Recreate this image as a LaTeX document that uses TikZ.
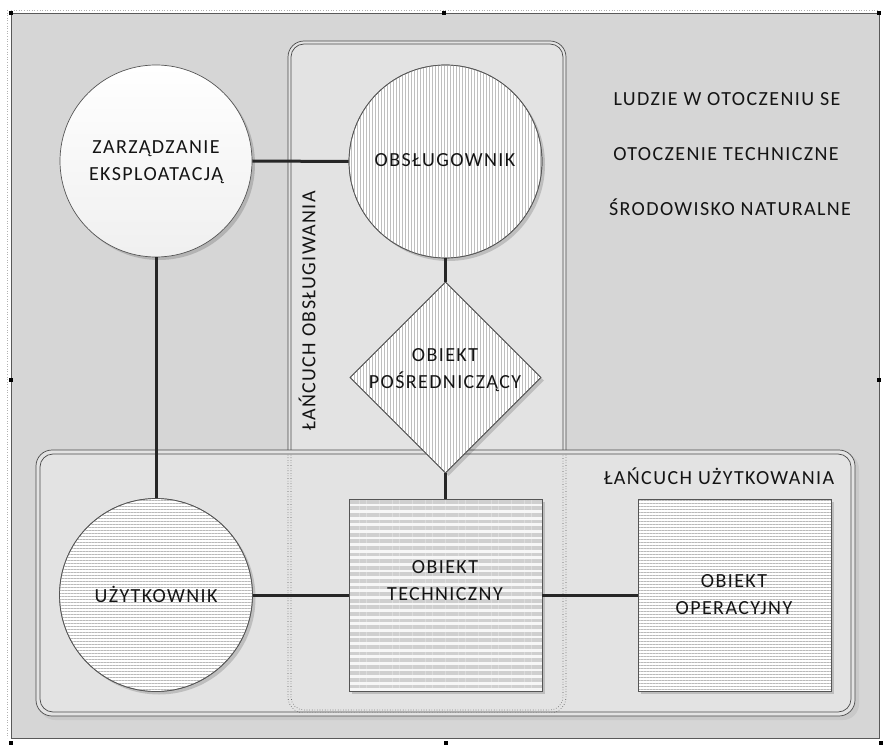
\documentclass[tikz,border=0pt]{standalone}
\usepackage{fontspec}
\setmainfont{Carlito}[LetterSpace=7]
\usetikzlibrary{shapes.geometric,shadows,patterns.meta}

\definecolor{bggray}{HTML}{D6D6D6}
\definecolor{boxgray}{HTML}{E3E3E3}
\definecolor{edge}{HTML}{555555}
\definecolor{framecol}{HTML}{4A4A4A}
\definecolor{ink}{HTML}{141414}
\definecolor{link}{HTML}{262626}

\begin{document}
\begin{tikzpicture}[x=1pt,y=-1pt,
  lbl/.style={font=\fontsize{20}{27}\selectfont, text=ink, align=center, inner sep=0pt},
  shp/.style={draw=edge, line width=0.7pt, inner sep=0pt,
    drop shadow={shadow xshift=3pt, shadow yshift=-3pt, fill=black, opacity=0.16}},
  outline/.style={postaction={draw=edge, line width=0.7pt}},
  vhatch/.style={fill=white, postaction={pattern={Lines[angle=90,distance=3pt,line width=0.45pt]}, pattern color=gray!50}, outline},
  hhatch/.style={fill=white, postaction={pattern={Lines[angle=0,distance=3pt,line width=0.5pt]}, pattern color=gray!55}, outline},
  bandhatch/.style={fill=gray!6, postaction={pattern={Lines[angle=0,distance=6.6pt,line width=3.8pt]}, pattern color=gray!38}, outline},
  conn/.style={draw=link, line width=3pt},
  chainframe/.style={draw=framecol, line width=0.7pt},
  handle/.style={fill=black}
]
\useasboundingbox (0,0) rectangle (883,746);

% sheet background
\fill[white] (0,0) rectangle (883,746);
\fill[bggray] (11,13) rectangle (879,738);
\draw[gray!70!black, line width=0.7pt] (11,13) rectangle (879,738);
\draw[gray!60, dotted, line width=0.6pt] (7,10) -- (7,738);
\draw[gray!60, dotted, line width=0.6pt] (11,10) -- (879,10);

% frame handles
\foreach \hx/\hy in {11/13, 444/13, 879/13, 11/380, 879/380, 11/743, 446/743, 881/743}
  \fill[handle] (\hx-2,\hy-2) rectangle (\hx+2,\hy+2);

% maintenance chain (vertical)
\fill[boxgray, rounded corners=16pt] (288,41) rectangle (566,713);
\draw[chainframe, rounded corners=16pt] (288,41) rectangle (566,713);
\draw[chainframe, rounded corners=13pt] (291,44) rectangle (563,710);

% use chain (horizontal)
\fill[black, opacity=0.06, rounded corners=16pt] (39,453) rectangle (859,720);
\fill[boxgray, rounded corners=16pt] (36,450) rectangle (855,716);
\draw[chainframe, rounded corners=16pt] (36,450) rectangle (855,716);
\draw[chainframe, rounded corners=13pt] (40,454) rectangle (851,712);

% maintenance chain outline seen through the use chain
\begin{scope}
  \clip (40,454) rectangle (851,712);
  \draw[gray!70!black, dotted, line width=0.6pt, rounded corners=16pt] (288,41) rectangle (566,713);
  \draw[gray!70!black, dotted, line width=0.6pt, rounded corners=13pt] (291,44) rectangle (563,710);
\end{scope}

% elements
\node[shp, circle, minimum size=192pt, top color=white, bottom color=gray!12] (zarz) at (156,161) {};
\node[shp, circle, minimum size=193pt, vhatch] (obsl) at (445.5,161.5) {};
\node[shp, diamond, aspect=1, minimum width=191pt, minimum height=191pt, vhatch] (posr) at (445.5,377.5) {};
\node[shp, circle, minimum size=193pt, hhatch] (uzyt) at (156,595) {};
\node[shp, rectangle, minimum width=193pt, minimum height=192pt, bandhatch] (tech) at (445.5,595) {};
\node[shp, rectangle, minimum width=193pt, minimum height=192pt, hhatch] (oper) at (734.5,595) {};

% links
\draw[conn] (zarz.east) -- (obsl.west);
\draw[conn] (zarz.south) -- (uzyt.north);
\draw[conn] (obsl.south) -- (posr.north);
\draw[conn] (posr.south) -- (tech.north);
\draw[conn] (uzyt.east) -- (tech.west);
\draw[conn] (tech.east) -- (oper.west);

% element labels
\node[lbl] (tzarz) at (156,162) {ZARZĄDZANIE\\EKSPLOATACJĄ};
\node[lbl] (tobsl) at (445,160) {OBSŁUGOWNIK};
\node[lbl] (tposr) at (445,370) {OBIEKT\\POŚREDNICZĄCY};
\node[lbl] (tuzyt) at (156,594) {UŻYTKOWNIK};
\node[lbl] (ttech) at (445,581) {OBIEKT\\TECHNICZNY};
\node[lbl] (toper) at (734,595) {OBIEKT\\OPERACYJNY};

% chain titles
\node[lbl, rotate=90] (tchain1) at (307,311) {ŁAŃCUCH OBSŁUGIWANIA};
\node[lbl] (tchain2) at (719,476) {ŁAŃCUCH UŻYTKOWANIA};

% surroundings
\node[lbl] (env1) at (727,99) {LUDZIE W OTOCZENIU SE};
\node[lbl] (env2) at (726,154) {OTOCZENIE TECHNICZNE};
\node[lbl] (env3) at (730,207) {ŚRODOWISKO NATURALNE};
\end{tikzpicture}
\end{document}
